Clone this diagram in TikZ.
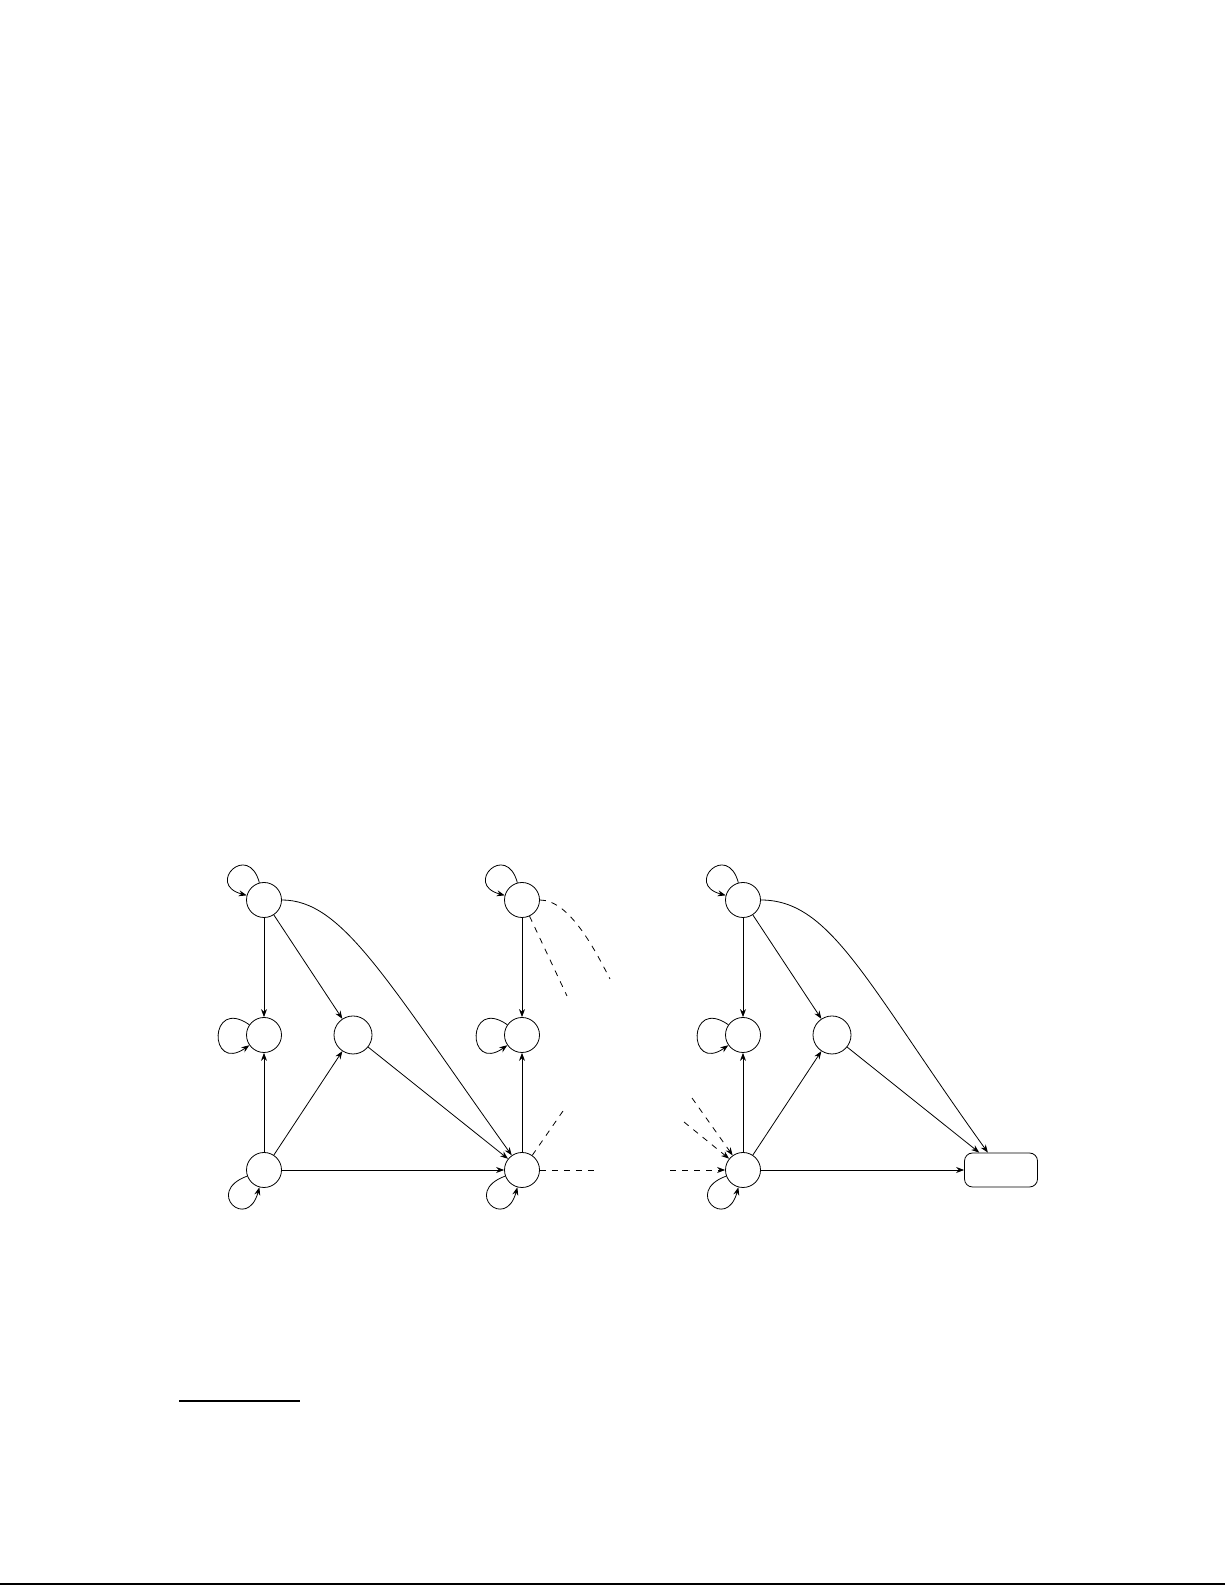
\documentclass[tikz,border=0pt]{standalone}
\usetikzlibrary{arrows.meta}
\begin{document}
\begin{tikzpicture}[x=0.5pt,y=0.5pt,
  st/.style={circle,draw,minimum size=17.5pt,inner sep=0pt},
  stbig/.style={circle,draw,minimum size=19pt,inner sep=0pt},
  fin/.style={draw,rounded corners=4pt,minimum width=36.5pt,minimum height=17pt,inner sep=0pt},
  edge/.style={-{Stealth[length=4pt,width=3pt]}},
  dedge/.style={edge,dashed},
  dline/.style={dashed}]
\useasboundingbox (0,0) rectangle (1225,1585);
% left panel
\node[st] (A) at (264,685) {};
\node[st] (B) at (264,550) {};
\node[stbig] (C) at (353,550) {};
\node[st] (D) at (264,415) {};
\node[st] (E) at (522,415) {};
% middle column
\node[st] (A1) at (522,685) {};
\node[st] (B1) at (522,550) {};
% right panel
\node[st] (A2) at (743,685) {};
\node[st] (B2) at (743,550) {};
\node[stbig] (C2) at (832,550) {};
\node[st] (D2) at (743,415) {};
\node[fin] (R) at (1001,415) {};

% left edges
\draw[edge] (A) -- (B);
\draw[edge] (D) -- (B);
\draw[edge] (A) -- (C);
\draw[edge] (D) -- (C);
\draw[edge] (C) -- (E);
\draw[edge] (D) -- (E);
\draw[edge] (A.east) .. controls +(60,0) and +(-127,178) .. (E.125);
\draw[edge] (A.105) .. controls +(105:21.5pt) and +(165:21.5pt) .. (A.165);
\draw[edge] (B.145) .. controls +(145:25pt) and +(215:25pt) .. (B.215);
\draw[edge] (D.200) .. controls +(200:23pt) and +(255:23pt) .. (D.255);
\draw[edge] (E.200) .. controls +(200:23pt) and +(255:23pt) .. (E.255);

% middle edges
\draw[edge] (A1) -- (B1);
\draw[edge] (E) -- (B1);
\draw[edge] (A1.105) .. controls +(105:21.5pt) and +(165:21.5pt) .. (A1.165);
\draw[edge] (B1.145) .. controls +(145:25pt) and +(215:25pt) .. (B1.215);
\coordinate (p1) at (610,606);
\coordinate (p2) at (567,589);
\coordinate (p3) at (563,474);
\coordinate (p4) at (595,415);
\draw[dline] (A1.east) .. controls +(30,0) and +(-14,27) .. (p1);
\draw[dline] (A1.-65) -- (p2);
\draw[dline] (E.55) -- (p3);
\draw[dline] (E.east) -- (p4);

% right edges
\coordinate (q1) at (670,415);
\coordinate (q2) at (692,487);
\coordinate (q3) at (684,463);
\draw[dedge] (q1) -- (D2);
\draw[dedge] (q2) -- (D2);
\draw[dedge] (q3) -- (D2);
\draw[edge] (A2) -- (B2);
\draw[edge] (D2) -- (B2);
\draw[edge] (A2) -- (C2);
\draw[edge] (D2) -- (C2);
\draw[edge] (C2) -- (R);
\draw[edge] (D2) -- (R);
\draw[edge] (A2.east) .. controls +(70,0) and +(-122,170) .. (R.127);
\draw[edge] (A2.105) .. controls +(105:21.5pt) and +(165:21.5pt) .. (A2.165);
\draw[edge] (B2.145) .. controls +(145:25pt) and +(215:25pt) .. (B2.215);
\draw[edge] (D2.200) .. controls +(200:23pt) and +(255:23pt) .. (D2.255);

% footnote rule and bottom edge
\draw[line width=1pt] (179,184) -- (300,184);
\draw[line width=0.6pt] (0,1) -- (1225,1);
\end{tikzpicture}
\end{document}
